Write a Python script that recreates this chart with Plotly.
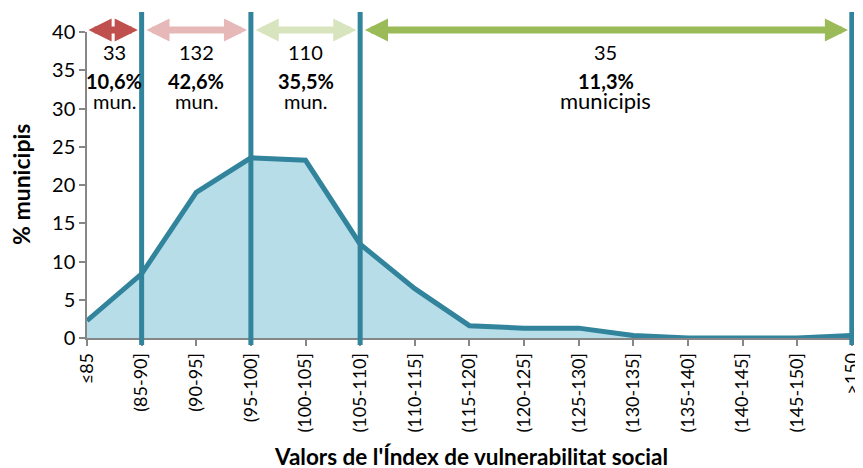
import plotly.graph_objects as go

categories = ["≤85", "(85-90]", "(90-95]", "(95-100]", "(100-105]", "(105-110]", "(110-115]",
              "(115-120]", "(120-125]", "(125-130]", "(130-135]", "(135-140]", "(140-145]",
              "(145-150]", ">150"]
pct_municipis = [2.26, 8.39, 19.03, 23.55, 23.23, 12.26, 6.45, 1.61, 1.29, 1.29, 0.32, 0.0, 0.0, 0.0, 0.32]

# group boundaries (category indices) and labels
group_bounds = [0, 1, 3, 5, 14]
group_counts = ["33", "132", "110", "35"]
group_pcts = ["10,6%", "42,6%", "35,5%", "11,3%"]
group_units = ["mun.", "mun.", "mun.", "municipis"]
arrow_colors = ["#C0504D", "#E6B9B8", "#D7E4BD", "#9BBB59"]

y_ticks = [0, 5, 10, 15, 20, 25, 30, 35, 40]

FONT = "Lato"
TEAL = "#31849B"

xs = list(range(len(categories)))

fig = go.Figure()
fig.add_trace(go.Scatter(
    x=xs, y=pct_municipis, mode="lines",
    line=dict(color=TEAL, width=5),
    fill="tozeroy", fillcolor="#B7DEE8",
    hoverinfo="skip", showlegend=False,
))

shapes = []
for b in group_bounds[1:]:
    shapes.append(dict(type="line", xref="x", yref="paper", x0=b, x1=b, y0=-0.023, y1=1.065,
                       line=dict(color=TEAL, width=5), layer="above"))

annotations = []
start_gap = 0.06
end_gap = 0.07
for i in range(4):
    a0 = group_bounds[i] + (0 if i == 0 else start_gap)
    a1 = group_bounds[i + 1] - end_gap
    annotations.append(dict(
        x=a1, y=1.0065, xref="x", yref="paper",
        ax=a0, ay=0, axref="x", ayref="pixel",
        text="", showarrow=True, arrowhead=2, arrowside="end+start",
        arrowwidth=7, arrowsize=0.66, arrowcolor=arrow_colors[i],
        standoff=0, startstandoff=0,
    ))
    mid = (group_bounds[i] + group_bounds[i + 1]) / 2
    unit_size = 22 if len(group_units[i]) > 4 else 20
    annotations.append(dict(x=mid, y=37.4, xref="x", yref="y", text=group_counts[i], showarrow=False,
                            font=dict(family=FONT, size=20, color="#000")))
    annotations.append(dict(x=mid, y=33.6, xref="x", yref="y", text="<b>" + group_pcts[i] + "</b>",
                            showarrow=False, font=dict(family=FONT, size=20, color="#000")))
    annotations.append(dict(x=mid, y=31.0, xref="x", yref="y", text=group_units[i], showarrow=False,
                            font=dict(family=FONT, size=unit_size, color="#000")))

annotations.append(dict(x=-0.086, y=0.5, xref="paper", yref="paper", text="<b>% municipis</b>",
                        textangle=-90, showarrow=False, xanchor="center", yanchor="middle",
                        font=dict(family=FONT, size=23, color="#000")))
annotations.append(dict(x=0.5, y=-0.386, xref="paper", yref="paper",
                        text="<b>Valors de l'Índex de vulnerabilitat social</b>",
                        showarrow=False, xanchor="center", yanchor="middle",
                        font=dict(family=FONT, size=22.5, color="#000")))

# page body has an 8px margin: figure is offset by 8px
fig.update_layout(
    width=855, height=460,
    margin=dict(l=79, r=9, t=24, b=130, autoexpand=False),
    paper_bgcolor="white", plot_bgcolor="white",
    shapes=shapes, annotations=annotations,
    xaxis=dict(range=[0, 14.04], tickmode="array", tickvals=xs, ticktext=categories, automargin=False,
               tickangle=-90, ticks="outside", ticklen=6, tickcolor="#868686", tickwidth=1.5,
               ticklabeloverflow="allow",
               showline=True, linecolor="#868686", linewidth=1.5, showgrid=False, zeroline=False,
               tickfont=dict(family=FONT, size=18, color="#000")),
    yaxis=dict(range=[0, 40], tickmode="array", tickvals=y_ticks, ticks="outside", ticklen=6,
               automargin=False,
               tickcolor="#868686", tickwidth=1.5, showline=True, linecolor="#868686", linewidth=1.5,
               showgrid=False, zeroline=False,
               tickfont=dict(family=FONT, size=20, color="#000")),
)

fig.write_html("out.html")
